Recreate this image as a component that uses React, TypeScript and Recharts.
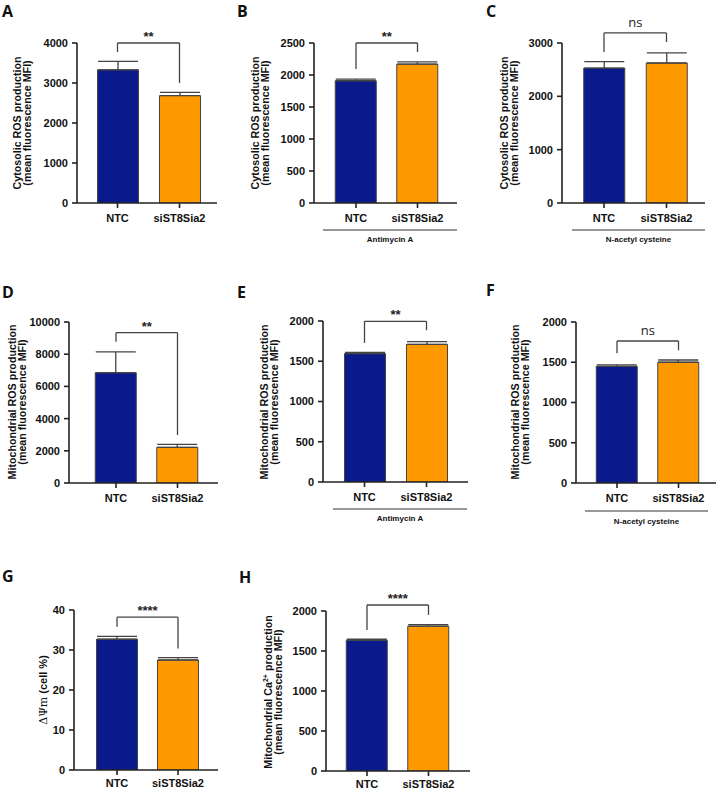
import React from "react";
import {
  BarChart,
  Bar,
  Cell,
  XAxis,
  YAxis,
  ErrorBar,
  ReferenceLine
} from "recharts";

// groups on every panel
const groups = ["NTC", "siST8Sia2"];
const barColors = ["#0a1a8c", "#ff9900"];

// A: cytosolic ROS, basal
const cytoBasalMean = [3330, 2685];
const cytoBasalSem = [210, 80];
const cytoBasalTicks = [0, 1000, 2000, 3000, 4000];
// B: cytosolic ROS, antimycin A
const cytoAntiMean = [1910, 2170];
const cytoAntiSem = [25, 35];
const cytoAntiTicks = [0, 500, 1000, 1500, 2000, 2500];
// C: cytosolic ROS, N-acetyl cysteine
const cytoNacMean = [2530, 2625];
const cytoNacSem = [120, 190];
const cytoNacTicks = [0, 1000, 2000, 3000];
// D: mitochondrial ROS, basal
const mitoBasalMean = [6850, 2215];
const mitoBasalSem = [1300, 185];
const mitoBasalTicks = [0, 2000, 4000, 6000, 8000, 10000];
// E: mitochondrial ROS, antimycin A
const mitoAntiMean = [1595, 1710];
const mitoAntiSem = [15, 35];
const mitoAntiTicks = [0, 500, 1000, 1500, 2000];
// F: mitochondrial ROS, N-acetyl cysteine
const mitoNacMean = [1450, 1500];
const mitoNacSem = [18, 28];
const mitoNacTicks = [0, 500, 1000, 1500, 2000];
// G: membrane potential
const psiMean = [32.7, 27.5];
const psiSem = [0.7, 0.6];
const psiTicks = [0, 10, 20, 30, 40];
// H: mitochondrial Ca2+
const calciumMean = [1635, 1810];
const calciumSem = [12, 20];
const calciumTicks = [0, 500, 1000, 1500, 2000];

// significance brackets: [top, left end, right end] in data units
const bracketA = [4000, 3775, 3000];
const bracketB = [2500, 2094, 2359];
const bracketC = [3188, 2831, 3019];
const bracketD = [9335, 8776, 2981];
const bracketE = [1996, 1727, 1885];
const bracketF = [1764, 1612, 1649];
const bracketG = [38.2, 35.8, 30.4];
const bracketH = [2075, 1764, 1950];
const significance = ["**", "**", "ns", "**", "**", "ns", "****", "****"];

const sans = "'Liberation Sans', Arial, sans-serif";
const axisColor = "#222";

type PanelDef = {
  mean: number[];
  sem: number[];
  ticks: number[];
  bracket: number[];
  sig: string;
  // layout: y-axis x, x-axis end, top tick y, zero y, bar centers
  x0: number;
  x1: number;
  yTop: number;
  yZero: number;
  c1: number;
  c2: number;
  tm: number;
};

const panels: PanelDef[] = [
  { mean: cytoBasalMean, sem: cytoBasalSem, ticks: cytoBasalTicks, bracket: bracketA, sig: significance[0], x0: 77, x1: 217, yTop: 43, yZero: 203, c1: 117.5, c2: 179.5, tm: 6 },
  { mean: cytoAntiMean, sem: cytoAntiSem, ticks: cytoAntiTicks, bracket: bracketB, sig: significance[1], x0: 314, x1: 457, yTop: 43, yZero: 203, c1: 356, c2: 417.5, tm: 6 },
  { mean: cytoNacMean, sem: cytoNacSem, ticks: cytoNacTicks, bracket: bracketC, sig: significance[2], x0: 562, x1: 705, yTop: 43, yZero: 203, c1: 604, c2: 666.5, tm: 6 },
  { mean: mitoBasalMean, sem: mitoBasalSem, ticks: mitoBasalTicks, bracket: bracketD, sig: significance[3], x0: 69, x1: 218, yTop: 322, yZero: 483, c1: 116, c2: 177.5, tm: 6 },
  { mean: mitoAntiMean, sem: mitoAntiSem, ticks: mitoAntiTicks, bracket: bracketE, sig: significance[4], x0: 323, x1: 468, yTop: 321, yZero: 482, c1: 364.5, c2: 426.5, tm: 6 },
  { mean: mitoNacMean, sem: mitoNacSem, ticks: mitoNacTicks, bracket: bracketF, sig: significance[5], x0: 576, x1: 716, yTop: 322, yZero: 483, c1: 617, c2: 678.5, tm: 6 },
  { mean: psiMean, sem: psiSem, ticks: psiTicks, bracket: bracketG, sig: significance[6], x0: 74, x1: 218, yTop: 610, yZero: 770, c1: 117, c2: 178, tm: 4 },
  { mean: calciumMean, sem: calciumSem, ticks: calciumTicks, bracket: bracketH, sig: significance[7], x0: 326, x1: 470, yTop: 611, yZero: 771, c1: 367, c2: 428.5, tm: 4 }
];

const TOP = 50;
const LEFT = 62;
const BOTTOM = 24;
const RIGHT = 4;

function Panel({ p }: { p: PanelDef }) {
  const data = groups.map((name, i) => ({
    name,
    value: p.mean[i],
    err: [0, p.sem[i]]
  }));
  const band = p.c2 - p.c1;
  const padLeft = p.c1 - band / 2 - p.x0;
  const padRight = p.x1 - (p.c2 + band / 2);
  const width = p.x1 - p.x0 + LEFT + RIGHT;
  const height = p.yZero - p.yTop + TOP + BOTTOM;
  const max = p.ticks[p.ticks.length - 1];
  const [top, leftEnd, rightEnd] = p.bracket;
  const ns = p.sig === "ns";
  const line = { stroke: "#444", strokeWidth: 1.3, ifOverflow: "visible" as const };
  return (
    <div style={{ position: "absolute", left: p.x0 - LEFT, top: p.yTop - TOP }}>
      <BarChart
        width={width}
        height={height}
        data={data}
        margin={{ top: TOP, right: RIGHT, left: 0, bottom: 0 }}
      >
        <XAxis
          dataKey="name"
          type="category"
          height={BOTTOM}
          padding={{ left: padLeft, right: padRight }}
          axisLine={{ stroke: axisColor, strokeWidth: 1.6 }}
          tickLine={{ stroke: axisColor, strokeWidth: 1.6 }}
          tickSize={5}
          tickMargin={p.tm}
          tick={{ fill: "#111", fontSize: 11, fontWeight: 700, fontFamily: sans }}
          interval={0}
        />
        <YAxis
          width={LEFT}
          domain={[0, max]}
          ticks={p.ticks}
          interval={0}
          allowDataOverflow
          axisLine={{ stroke: axisColor, strokeWidth: 1.6 }}
          tickLine={{ stroke: axisColor, strokeWidth: 1.6 }}
          tickSize={5}
          tickMargin={4}
          tick={{ fill: "#111", fontSize: 11, fontWeight: 700, fontFamily: sans }}
        />
        <Bar dataKey="value" barSize={41} stroke="#444" strokeWidth={1} isAnimationActive={false}>
          {data.map((d, i) => (
            <Cell key={d.name} fill={barColors[i]} />
          ))}
          <ErrorBar dataKey="err" width={20} stroke="#444" strokeWidth={1.3} direction="y" />
        </Bar>
        <ReferenceLine
          {...line}
          segment={[{ x: groups[0], y: top }, { x: groups[1], y: top }]}
          label={{
            value: p.sig,
            position: "top",
            offset: ns ? 6 : 2,
            fill: "#222",
            fontSize: 13,
            fontWeight: ns ? 400 : 700,
            fontFamily: ns ? "'Open Sans', sans-serif" : sans
          }}
        />
        <ReferenceLine {...line} segment={[{ x: groups[0], y: top }, { x: groups[0], y: leftEnd }]} />
        <ReferenceLine {...line} segment={[{ x: groups[1], y: top }, { x: groups[1], y: rightEnd }]} />
      </BarChart>
    </div>
  );
}

const panelLetters = [
  { t: "A", x: 2, y: 17 },
  { t: "B", x: 237, y: 17 },
  { t: "C", x: 486, y: 17 },
  { t: "D", x: 2, y: 298 },
  { t: "E", x: 237, y: 298 },
  { t: "F", x: 486, y: 296 },
  { t: "G", x: 2, y: 582 },
  { t: "H", x: 239, y: 583 }
];

const yTitles = [
  { a: "Cytosolic ROS production", b: "(mean fluorescence MFI)", x: 21, y: 123 },
  { a: "Cytosolic ROS production", b: "(mean fluorescence MFI)", x: 259, y: 123 },
  { a: "Cytosolic ROS production", b: "(mean fluorescence MFI)", x: 508, y: 123 },
  { a: "Mitochondrial ROS production", b: "(mean fluorescence MFI)", x: 16, y: 402 },
  { a: "Mitochondrial ROS production", b: "(mean fluorescence MFI)", x: 268, y: 402 },
  { a: "Mitochondrial ROS production", b: "(mean fluorescence MFI)", x: 519, y: 402 }
];

const treatments = [
  { t: "Antimycin A", x1: 323, x2: 457, y: 230, ty: 242 },
  { t: "N-acetyl cysteine", x1: 572, x2: 705, y: 230, ty: 242 },
  { t: "Antimycin A", x1: 333, x2: 467, y: 509, ty: 521 },
  { t: "N-acetyl cysteine", x1: 585, x2: 708, y: 511, ty: 524 }
];

function Overlay() {
  return (
    <svg width={720} height={792} style={{ position: "absolute", left: 0, top: 0, pointerEvents: "none" }}>
      {panelLetters.map((l) => (
        <text key={l.t} x={l.x} y={l.y} fontFamily="'Open Sans', sans-serif" fontWeight={700} fontSize={16} fill="#111">
          {l.t}
        </text>
      ))}
      {yTitles.map((t, i) => (
        <text
          key={i}
          transform={`translate(${t.x},${t.y}) rotate(-90)`}
          textAnchor="middle"
          fontFamily={sans}
          fontWeight={700}
          fontSize={10.7}
          fill="#111"
        >
          <tspan x={0} y={0}>{t.a}</tspan>
          <tspan x={0} y={10}>{t.b}</tspan>
        </text>
      ))}
      <text transform="translate(47,690) rotate(-90)" textAnchor="middle" fontSize={11} fill="#111">
        <tspan fontFamily="'DejaVu Serif', serif">ΔΨm</tspan>
        <tspan fontFamily={sans} fontWeight={700}> (cell %)</tspan>
      </text>
      <text transform="translate(272,692) rotate(-90)" textAnchor="middle" fontFamily={sans} fontWeight={700} fontSize={10.7} fill="#111">
        <tspan x={0} y={0}>
          Mitochondrial Ca
          <tspan dy={-4} fontSize={7}>2+</tspan>
          <tspan dy={4}> production</tspan>
        </tspan>
        <tspan x={0} y={10}>(mean fluorescence MFI)</tspan>
      </text>
      {treatments.map((g, i) => (
        <g key={i}>
          <line x1={g.x1} x2={g.x2} y1={g.y} y2={g.y} stroke="#333" strokeWidth={1} />
          <text x={(g.x1 + g.x2) / 2} y={g.ty} textAnchor="middle" fontFamily={sans} fontWeight={700} fontSize={8} fill="#111">
            {g.t}
          </text>
        </g>
      ))}
    </svg>
  );
}

export default function App() {
  return (
    <div style={{ position: "absolute", left: 0, top: 0, width: 720, height: 792, background: "#fff" }}>
      {panels.map((p, i) => (
        <Panel key={i} p={p} />
      ))}
      <Overlay />
    </div>
  );
}
